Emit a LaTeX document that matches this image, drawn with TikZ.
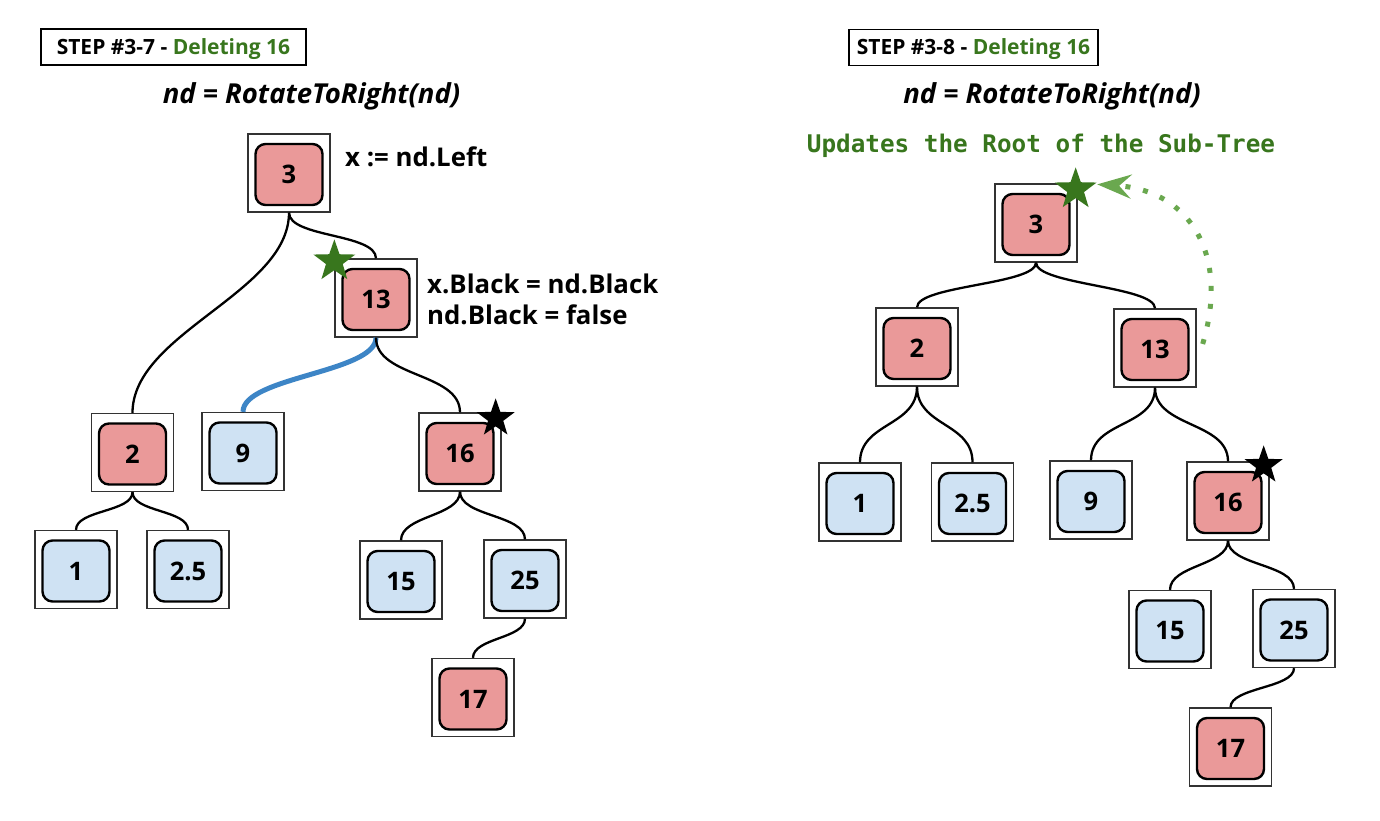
\documentclass[tikz,border=0pt]{standalone}
\usepackage{fontspec}
\setmainfont{Open Sans}
\setmonofont{DejaVu Sans Mono}
\usetikzlibrary{arrows.meta,shapes.geometric}
\definecolor{rbred}{HTML}{EA9999}
\definecolor{rbblue}{HTML}{CFE2F3}
\definecolor{rbgreen}{HTML}{38761D}
\definecolor{rblime}{HTML}{6AA84F}
\definecolor{rbedge}{HTML}{3D85C6}

\begin{document}
\begin{tikzpicture}[x=1pt,y=-1pt,font=\bfseries,
      cell/.style={draw=black!80,line width=1.3pt,fill=white,minimum width=82pt,minimum height=78pt,inner sep=0pt},
      inbox/.style={draw,line width=2.4pt,rounded corners=10pt,minimum width=67pt,minimum height=61pt,inner sep=0pt,
        yshift=-1.5pt,font=\fontsize{25.5}{30}\selectfont\bfseries},
      rn/.style={cell,label={[inbox,fill=rbred]center:#1}},
      bn/.style={cell,label={[inbox,fill=rbblue]center:#1}},
      link/.style={line width=2.3pt},
      branch/.style={to path={.. controls +(0,#1) and +(0,-#1) .. (\tikztotarget)}},
      branch/.default=25,
      title/.style={draw,line width=1.5pt,minimum height=36pt,inner sep=0pt,text height=15pt,text depth=0pt,
        font=\fontsize{21}{25}\selectfont\bfseries},
      call/.style={anchor=base,inner sep=0pt,font=\fontsize{27.5}{32}\selectfont\bfseries\itshape},
      note/.style={anchor=base west,inner sep=0pt,font=\fontsize{25.8}{30}\selectfont\bfseries},
      gstar/.style={star,star points=5,star point ratio=2.5,fill=rbgreen,minimum size=44pt,inner sep=0pt},
      kstar/.style={star,star points=5,star point ratio=2.5,fill=black,minimum size=40pt,inner sep=0pt}]
  \useasboundingbox (0,0) rectangle (1380,821);

  % step 3-7
  \node[title,minimum width=265pt] (t1) at (173.5,47) {STEP \#3-7 - \textcolor{rbgreen}{Deleting 16}};
  \node[call] (c1) at (311.5,104) {nd = RotateToRight(nd)};
  \node[rn=3] (a3) at (289,173) {};
  \node[rn=13] (a13) at (376,298) {};
  \node[rn=2] (a2) at (132.5,452.5) {};
  \node[bn=9] (a9) at (243,451.5) {};
  \node[rn=16] (a16) at (460,452) {};
  \node[bn=1] (a1) at (76,569.5) {};
  \node[bn=2.5] (a2x5) at (188,569.5) {};
  \node[bn=15] (a15) at (401,580) {};
  \node[bn=25] (a25) at (525,579) {};
  \node[rn=17] (a17) at (473,697.5) {};
  \draw[link] (a3.south) to[branch=80] (a2.north);
  \draw[link] (a3.south) to[branch=25] (a13.north);
  \draw[link,rbedge,line width=5pt] (a13.south) to[branch=35] (a9.north);
  \draw[link] (a13.south) to[branch=40] (a16.north);
  \draw[link] (a2.south) to[branch=20] (a1.north);
  \draw[link] (a2.south) to[branch=20] (a2x5.north);
  \draw[link] (a16.south) to[branch] (a15.north);
  \draw[link] (a16.south) to[branch] (a25.north);
  \draw[link] (a25.south) to[branch=20] (a17.north);
  \node[gstar] (a13s) at ([shift={(0,3)}]a13.north west) {};
  \node[kstar] (a16s) at ([shift={(-6,6)}]a16.north east) {};
  \node[note] (xl) at (345,167) {x := nd.Left};
  \node[note] (xb) at (427,293) {x.Black = nd.Black};
  \node[note] (nb) at (427,324) {nd.Black = false};

  % step 3-8
  \node[title,minimum width=249pt] (t2) at (973.5,47.5) {STEP \#3-8 - \textcolor{rbgreen}{Deleting 16}};
  \node[call] (c2) at (1052,104) {nd = RotateToRight(nd)};
  \node[anchor=base,inner sep=0pt,text=rbgreen,font=\fontsize{24.3}{28}\selectfont\ttfamily\bfseries] (upd)
    at (1041,153) {Updates the Root of the Sub-Tree};
  \node[rn=3] (b3) at (1036,223) {};
  \node[rn=2] (b2) at (917,347) {};
  \node[rn=13] (b13) at (1155,348) {};
  \node[bn=1] (b1) at (860,502) {};
  \node[bn=2.5] (b2x5) at (972.5,502) {};
  \node[bn=9] (b9) at (1091,500) {};
  \node[rn=16] (b16) at (1228,501) {};
  \node[bn=15] (b15) at (1170,629.5) {};
  \node[bn=25] (b25) at (1294,628.5) {};
  \node[rn=17] (b17) at (1230.5,747) {};
  \draw[link] (b3.south) to[branch=22] (b2.north);
  \draw[link] (b3.south) to[branch=22] (b13.north);
  \draw[link] (b2.south) to[branch=40] (b1.north);
  \draw[link] (b2.south) to[branch=40] (b2x5.north);
  \draw[link] (b13.south) to[branch=40] (b9.north);
  \draw[link] (b13.south) to[branch=40] (b16.north);
  \draw[link] (b16.south) to[branch] (b15.north);
  \draw[link] (b16.south) to[branch] (b25.north);
  \draw[link] (b25.south) to[branch=20] (b17.north);
  \node[gstar] (b3s) at ([shift={(-2,6)}]b3.north east) {};
  \node[kstar] (b16s) at ([shift={(-6,4)}]b16.north east) {};
  \draw[rblime,line width=5pt,dash pattern=on 5pt off 13pt,-{Stealth[length=34pt,width=24pt,inset=12pt]}]
    ([shift={(6,-4)}]b13.east) .. controls +(27,-89) and +(93,6) .. ([shift={(0,2)}]b3s.outer point 5);
\end{tikzpicture}
\end{document}
